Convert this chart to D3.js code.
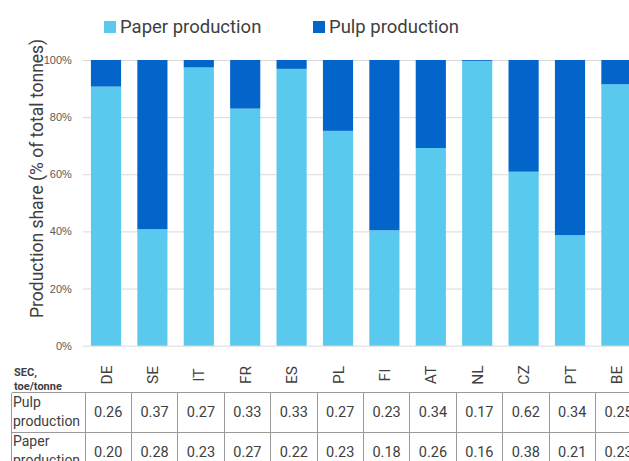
<!DOCTYPE html>
<html>
<head>
<meta charset="utf-8">
<script src="https://cdn.jsdelivr.net/npm/d3@7"></script>
<style>
  html, body { margin: 0; padding: 0; background: #fff; overflow: hidden; }
  svg { display: block; font-family: Roboto, "Liberation Sans", Arial, sans-serif; }
</style>
</head>
<body>
<svg id="chart" width="629" height="461"></svg>
<script>
// Countries, in chart order
const categories = ["DE", "SE", "IT", "FR", "ES", "PL", "FI", "AT", "NL", "CZ", "PT", "BE"];
// Share of total tonnes (%)
const paperShare = [90.7, 40.8, 97.4, 83.0, 96.9, 75.2, 40.4, 69.2, 99.7, 60.9, 38.7, 91.5];
const pulpShare  = [9.3, 59.2, 2.6, 17.0, 3.1, 24.8, 59.6, 30.8, 0.3, 39.1, 61.3, 8.5];
// Specific energy consumption, toe/tonne
const secPulp  = ["0.26", "0.37", "0.27", "0.33", "0.33", "0.27", "0.23", "0.34", "0.17", "0.62", "0.34", "0.25"];
const secPaper = ["0.20", "0.28", "0.23", "0.27", "0.22", "0.23", "0.18", "0.26", "0.16", "0.38", "0.21", "0.23"];
const yTicks = [0, 20, 40, 60, 80, 100];

const series = [
  { key: "paper", name: "Paper production", color: "#59C9EE", values: paperShare },
  { key: "pulp",  name: "Pulp production",  color: "#0364C9", values: pulpShare }
];

const svg = d3.select("#chart");
const textColor = "#404040";

const plotLeft = 82.8, step = 46.4;
const x = d3.scaleBand()
  .domain(categories)
  .range([plotLeft, plotLeft + step * categories.length])
  .paddingInner(0.35)
  .paddingOuter(0.175);
const y = d3.scaleLinear().domain([0, 100]).range([345.7, 60]);

// Gridlines and tick labels
const yAxis = d3.axisLeft(y)
  .tickValues(yTicks)
  .tickSize(-(629 - plotLeft))
  .tickPadding(11)
  .tickFormat(d => d + "%");
const gy = svg.append("g").attr("transform", `translate(${plotLeft},0)`).call(yAxis);
gy.select(".domain").remove();
gy.selectAll(".tick line").attr("stroke", "#d9d9d9").attr("stroke-width", 1);
gy.selectAll(".tick text").attr("fill", "#595959").style("font-size", "11px");

// Stacked bars
const rows = categories.map((c, i) => ({ cat: c, paper: paperShare[i], pulp: pulpShare[i] }));
const stacked = d3.stack().keys(series.map(s => s.key))(rows);
svg.append("g").selectAll("g")
  .data(stacked)
  .join("g")
  .attr("fill", (d, i) => series[i].color)
  .selectAll("rect")
  .data(d => d)
  .join("rect")
  .attr("x", d => x(d.data.cat))
  .attr("width", x.bandwidth())
  .attr("y", d => y(d[1]))
  .attr("height", d => y(d[0]) - y(d[1]));

// Y axis title
svg.append("text")
  .attr("transform", "translate(43,318) rotate(-90)")
  .attr("text-anchor", "start")
  .attr("fill", textColor)
  .style("font-size", "17.5px")
  .text("Production share (% of total tonnes)");

// Legend
const legendPos = [104, 313];
series.forEach((s, i) => {
  const g = svg.append("g").attr("transform", `translate(${legendPos[i]},0)`);
  g.append("rect").attr("x", 0).attr("y", 21).attr("width", 12).attr("height", 12).attr("fill", s.color);
  g.append("text").attr("x", 16).attr("y", 33).attr("fill", textColor)
    .style("font-size", "18.5px").text(s.name);
});

// Category labels (rotated)
svg.append("g").selectAll("text")
  .data(categories)
  .join("text")
  .attr("transform", d => `translate(${x(d) + x.bandwidth() / 2 + 5.5},375) rotate(-90)`)
  .attr("text-anchor", "middle")
  .attr("fill", textColor)
  .style("font-size", "15.5px")
  .text(d => d);

// SEC header
const hdr = svg.append("text").attr("fill", "#404040").style("font-size", "11px").style("font-weight", "bold");
hdr.append("tspan").attr("x", 14).attr("y", 376).text("SEC,");
hdr.append("tspan").attr("x", 14).attr("y", 390).text("toe/tonne");

// Data table
const tableLeft = 11.5, labelRight = 85, rowTop = [392.5, 432];
const colX = i => labelRight + step * i;
const tbl = svg.append("g").attr("stroke", "#9a9a9a").attr("stroke-width", 1).attr("shape-rendering", "crispEdges");
rowTop.forEach(yy => tbl.append("line").attr("x1", tableLeft).attr("x2", 629).attr("y1", yy).attr("y2", yy));
tbl.append("line").attr("x1", tableLeft).attr("x2", tableLeft).attr("y1", rowTop[0]).attr("y2", 461);
d3.range(categories.length).forEach(i => {
  tbl.append("line").attr("x1", colX(i)).attr("x2", colX(i)).attr("y1", rowTop[0]).attr("y2", 461);
});

const rowLabels = [["Pulp", "production"], ["Paper", "production"]];
rowLabels.forEach((lines, r) => {
  const t = svg.append("text").attr("fill", textColor).style("font-size", "14px");
  lines.forEach((ln, k) => t.append("tspan").attr("x", 13).attr("y", rowTop[r] + 14 + k * 19).text(ln));
});

[secPulp, secPaper].forEach((vals, r) => {
  svg.append("g").selectAll("text")
    .data(vals)
    .join("text")
    .attr("x", (d, i) => colX(i) + step / 2)
    .attr("y", rowTop[r] + 24.5)
    .attr("text-anchor", "middle")
    .attr("fill", textColor)
    .style("font-size", "14.5px")
    .text(d => d);
});
</script>
</body>
</html>
